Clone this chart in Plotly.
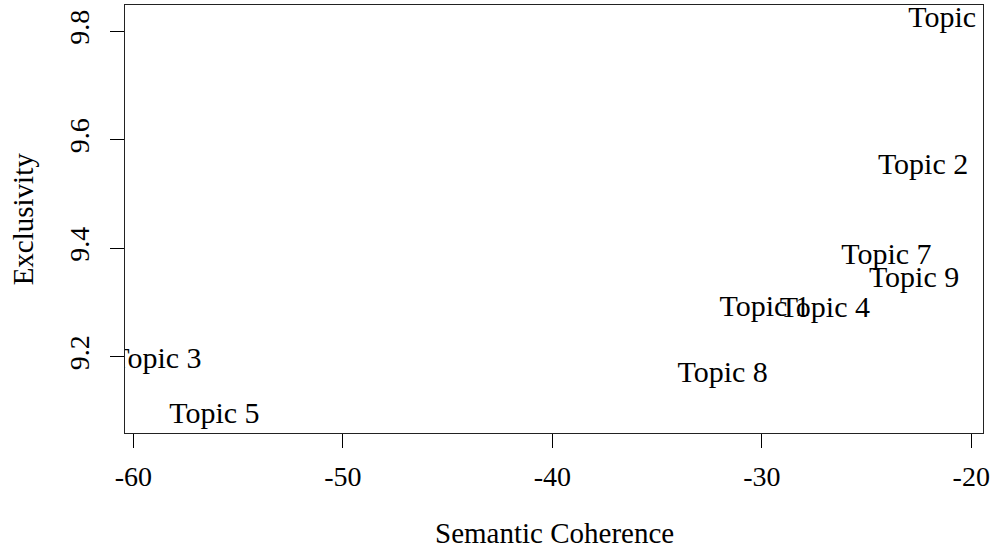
import plotly.graph_objects as go

# Data
topics = ["Topic 1", "Topic 2", "Topic 3", "Topic 4", "Topic 5",
          "Topic 6", "Topic 7", "Topic 8", "Topic 9"]
semantic_coherence = [-29.86, -22.30, -58.90, -26.99, -56.13,
                      -20.85, -24.05, -31.87, -22.73]
exclusivity = [9.289, 9.552, 9.193, 9.287, 9.092,
               9.822, 9.386, 9.167, 9.343]

x_ticks = [-60, -50, -40, -30, -20]
x_tick_labels = ["-60", "-50", "-40", "-30", "-20"]
y_ticks = [9.2, 9.4, 9.6, 9.8]
y_tick_labels = ["9.2", "9.4", "9.6", "9.8"]

FONT = "Liberation Serif, Times New Roman, serif"

fig = go.Figure()
fig.add_trace(go.Scatter(
    x=semantic_coherence, y=exclusivity, text=topics,
    mode="text", textposition="middle center",
    textfont=dict(family=FONT, size=30, color="black"),
    cliponaxis=True, hoverinfo="skip", showlegend=False,
))

L, R, T, B = 124.7, 995 - 983.3, 5, 552 - 432.7
W = 995 - L - R
H = 552 - T - B

fig.update_layout(
    width=995, height=552,
    margin=dict(l=L, r=R, t=T, b=B, pad=0),
    paper_bgcolor="white", plot_bgcolor="white",
    font=dict(family=FONT, size=28, color="black"),
    xaxis=dict(
        range=[-60.40, -19.44], tickvals=x_ticks, ticktext=x_tick_labels,
        ticks="outside", ticklen=14, tickwidth=1, tickcolor="black",
        showline=True, mirror=True, linecolor="#222", linewidth=1,
        showgrid=False, zeroline=False, ticklabelstandoff=4,
        tickfont=dict(family=FONT, size=28, color="black"),
    ),
    yaxis=dict(
        range=[9.0595, 9.849], tickvals=y_ticks, ticktext=y_tick_labels,
        ticks="outside", ticklen=14, tickwidth=1, tickcolor="black",
        showline=True, mirror=True, linecolor="#222", linewidth=1,
        showgrid=False, zeroline=False, tickangle=-90, ticklabelstandoff=10,
        tickfont=dict(family=FONT, size=28, color="black"),
    ),
    annotations=[
        dict(text="Semantic Coherence", xref="paper", yref="paper",
             x=0.5, y=-(533 - 432.7) / H, xanchor="center", yanchor="middle",
             showarrow=False, font=dict(family=FONT, size=29, color="black")),
        dict(text="Exclusivity", xref="paper", yref="paper",
             x=-(L - 23) / W, y=0.5, xanchor="center", yanchor="middle",
             textangle=-90, showarrow=False,
             font=dict(family=FONT, size=29, color="black")),
    ],
)

fig.write_html("out.html")
